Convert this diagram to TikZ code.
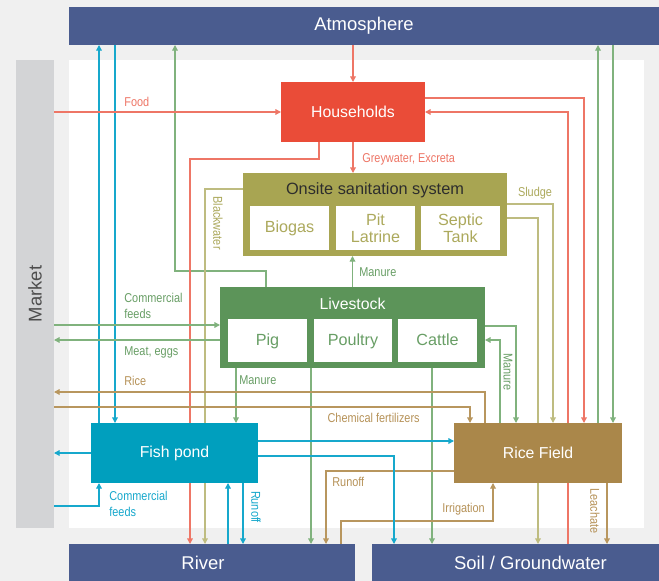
\documentclass[tikz,border=0pt]{standalone}
\usepackage{fontspec}
\setmainfont{Liberation Sans}
\newfontfamily\condensed[FakeStretch=0.85]{Liberation Sans}
\usetikzlibrary{arrows.meta,backgrounds}

\definecolor{pagebg}{RGB}{240,240,240}
\definecolor{marketgray}{RGB}{211,212,214}
\definecolor{marketdark}{RGB}{77,77,77}
\definecolor{skyblue}{RGB}{74,92,143}
\definecolor{housered}{RGB}{234,76,56}
\definecolor{redline}{RGB}{238,118,102}
\definecolor{olivebox}{RGB}{168,165,82}
\definecolor{oliveline}{RGB}{190,188,128}
\definecolor{olivetext}{RGB}{172,169,92}
\definecolor{greenbox}{RGB}{92,148,89}
\definecolor{greenline}{RGB}{128,178,125}
\definecolor{greentext}{RGB}{104,158,101}
\definecolor{tealbox}{RGB}{0,159,190}
\definecolor{tealline}{RGB}{22,168,204}
\definecolor{brownbox}{RGB}{170,135,74}
\definecolor{brownline}{RGB}{184,150,94}
\definecolor{browntext}{RGB}{182,146,88}
\definecolor{titledark}{RGB}{45,45,45}

\begin{document}
\begin{tikzpicture}[
    x=0.02cm, y=-0.02cm,
    >={Triangle[length=3.2pt,width=3.2pt]},
    band/.style={fill=skyblue, inner sep=0pt, outer sep=0pt},
    bandtext/.style={text=white, font=\fontsize{10.5}{12}\selectfont},
    unit/.style={fill=#1, text=white, inner sep=0pt, outer sep=0pt,
        font=\fontsize{9}{11}\selectfont},
    part/.style={fill=white, text=#1, align=center, inner sep=0pt, outer sep=0pt,
        minimum width=1.58cm, minimum height=0.87cm,
        font=\fontsize{9.2}{9.6}\selectfont},
    oneline/.style={part=#1, text height=6.8pt, text depth=1.6pt},
    tag/.style={text=#1, inner sep=0pt, align=left,
        font=\condensed\fontsize{7.3}{9}\selectfont},
    flow/.style={draw=#1, line width=0.7pt, ->}
  ]
  \begin{scope}[on background layer]
    \fill[pagebg] (0,0) rectangle (659,581);
    \fill[white] (69,60) rectangle (644,528);
  \end{scope}
  \useasboundingbox (0,0) rectangle (659,581);

  \node[band, bandtext, minimum width=11.8cm, minimum height=0.76cm] (atmo) at (364,26) {Atmosphere};
  \node[band, minimum width=5.72cm, minimum height=0.76cm,
        label={[bandtext, xshift=-0.18cm]center:River}] (river) at (212,563) {};
  \node[band, minimum width=5.74cm, minimum height=0.76cm,
        label={[bandtext, xshift=0.3cm]center:Soil / Groundwater}] (soil) at (515.5,563) {};
  \node[fill=marketgray, inner sep=0pt, outer sep=0pt,
        minimum width=0.76cm, minimum height=9.36cm] (market) at (35,294) {};
  \node[rotate=90, text=marketdark, font=\fontsize{10.5}{12}\selectfont] (markettext) at (market.center) {Market};

  \node[unit=housered, minimum width=2.88cm, minimum height=1.2cm] (house) at (353,112) {Households};

  \node[unit=olivebox, minimum width=5.28cm, minimum height=1.66cm] (onsite) at (375,214.5) {};
  \node[text=titledark, font=\fontsize{9.3}{11}\selectfont] (onsitetitle) at (375,190) {Onsite sanitation system};
  \node[oneline=olivetext] (biogas) at (289.5,228) {Biogas};
  \node[part=olivetext] (pit) at (375.5,228) {Pit\\Latrine};
  \node[part=olivetext] (septic) at (460.5,228) {Septic\\Tank};

  \node[unit=greenbox, minimum width=5.3cm, minimum height=1.62cm] (live) at (352.5,327.5) {};
  \node[text=white, font=\fontsize{9}{11}\selectfont] (livetitle) at (352.5,303.5) {Livestock};
  \node[oneline=greentext, minimum height=0.86cm] (pig) at (267.5,340.5) {Pig};
  \node[oneline=greentext, minimum height=0.86cm] (poultry) at (353,340.5) {Poultry};
  \node[oneline=greentext, minimum height=0.86cm] (cattle) at (437.5,340.5) {Cattle};

  \node[unit=tealbox, minimum width=3.34cm, minimum height=1.2cm] (fish) at (174.5,453) {Fish pond};
  \node[unit=brownbox, minimum width=3.36cm, minimum height=1.2cm] (rice) at (538,453) {Rice Field};

  \begin{scope}[on background layer]
    % atmosphere
    \draw[flow=redline] (house.north |- atmo.south) -- (house.north);
    \draw[flow=tealline] (99,0 |- fish.north) -- (99,0 |- atmo.south);
    \draw[flow=tealline] (115,0 |- atmo.south) -- (115,0 |- fish.north);
    \draw[flow=greenline] (266,0 |- live.north) |- (175,271) -- (175,0 |- atmo.south);
    \draw[flow=greenline] (598,0 |- rice.north) -- (598,0 |- atmo.south);
    \draw[flow=greenline] (613,0 |- atmo.south) -- (613,0 |- rice.north);
    % households
    \draw[flow=redline] (market.east |- house.west) -- (house.west);
    \draw[flow=redline] (house.south) -- (house.south |- onsite.north);
    \draw[flow=redline] (319,0 |- house.south) |- (190,159) -- (190,0 |- river.north);
    \draw[flow=redline] (house.east |- 0,98) -| (584,0 |- rice.north);
    \draw[flow=redline] (568,0 |- soil.north) |- (house.east);
    % sanitation
    \draw[flow=oliveline] (onsite.west |- 0,189) -| (205,0 |- river.north);
    \draw[flow=oliveline] (onsite.east |- 0,204) -| (553,0 |- rice.north);
    \draw[flow=oliveline] (onsite.east |- 0,218) -| (538,0 |- soil.north);
    % livestock
    \draw[flow=greenline] (market.east |- 0,325) -- (live.west |- 0,325);
    \draw[flow=greenline] (live.west |- 0,340) -- (market.east |- 0,340);
    \draw[flow=greenline] (live.north) -- (live.north |- onsite.south);
    \draw[flow=greenline] (236,0 |- live.south) -- (236,0 |- fish.north);
    \draw[flow=greenline] (311,0 |- live.south) -- (311,0 |- river.north);
    \draw[flow=greenline] (432,0 |- live.south) -- (432,0 |- soil.north);
    \draw[flow=greenline] (live.east |- 0,326) -| (516,0 |- rice.north);
    \draw[flow=greenline] (500,0 |- rice.north) |- (live.east |- 0,340);
    % rice field
    \draw[flow=brownline] (485,0 |- rice.north) |- (market.east |- 0,392);
    \draw[flow=brownline] (market.east |- 0,407) -| (470,0 |- rice.north);
    \draw[flow=brownline] (rice.west |- 0,471) -| (326,0 |- river.north);
    \draw[flow=brownline] (341,0 |- river.north) |- (493,521) -- (493,0 |- rice.south);
    \draw[flow=brownline] (607,0 |- rice.south) -- (607,0 |- soil.north);
    % fish pond
    \draw[flow=tealline] (fish.east |- 0,441) -- (rice.west |- 0,441);
    \draw[flow=tealline] (fish.east |- 0,456) -| (394,0 |- soil.north);
    \draw[flow=tealline] (fish.west) -- (market.east |- fish.west);
    \draw[flow=tealline] (market.east |- 0,506) -| (99,0 |- fish.south);
    \draw[flow=tealline] (228,0 |- river.north) -- (228,0 |- fish.south);
    \draw[flow=tealline] (243,0 |- fish.south) -- (243,0 |- river.north);
  \end{scope}

  \node[tag=redline, anchor=west] (tfood) at (124,101.5) {Food};
  \node[tag=redline, anchor=west] (tgrey) at (362,159) {Greywater, Excreta};
  \node[tag=olivetext, rotate=-90] (tblack) at (218,223) {Blackwater};
  \node[tag=olivetext] (tsludge) at (535,193) {Sludge};
  \node[tag=greentext, anchor=north west] (tfeedlive) at (124,293) {Commercial\\feeds};
  \node[tag=greentext, anchor=west] (tmeat) at (124,352) {Meat, eggs};
  \node[tag=greentext, anchor=west] (tmanuretop) at (359,272) {Manure};
  \node[tag=greentext, anchor=west] (tmanurefish) at (239,380) {Manure};
  \node[tag=greentext, rotate=-90] (tmanurerice) at (508,372) {Manure};
  \node[tag=browntext, anchor=west] (trice) at (124,381) {Rice};
  \node[tag=browntext, anchor=east] (tchem) at (420,418) {Chemical fertilizers};
  \node[tag=browntext, anchor=west] (trunrice) at (332,482) {Runoff};
  \node[tag=browntext, anchor=west] (tirrig) at (442,509) {Irrigation};
  \node[tag=browntext, rotate=-90] (tleach) at (595,511) {Leachate};
  \node[tag=tealline, anchor=north west] (tfeedfish) at (109,491) {Commercial\\feeds};
  \node[tag=tealline, rotate=-90] (trunfish) at (256,507) {Runoff};
\end{tikzpicture}
\end{document}
